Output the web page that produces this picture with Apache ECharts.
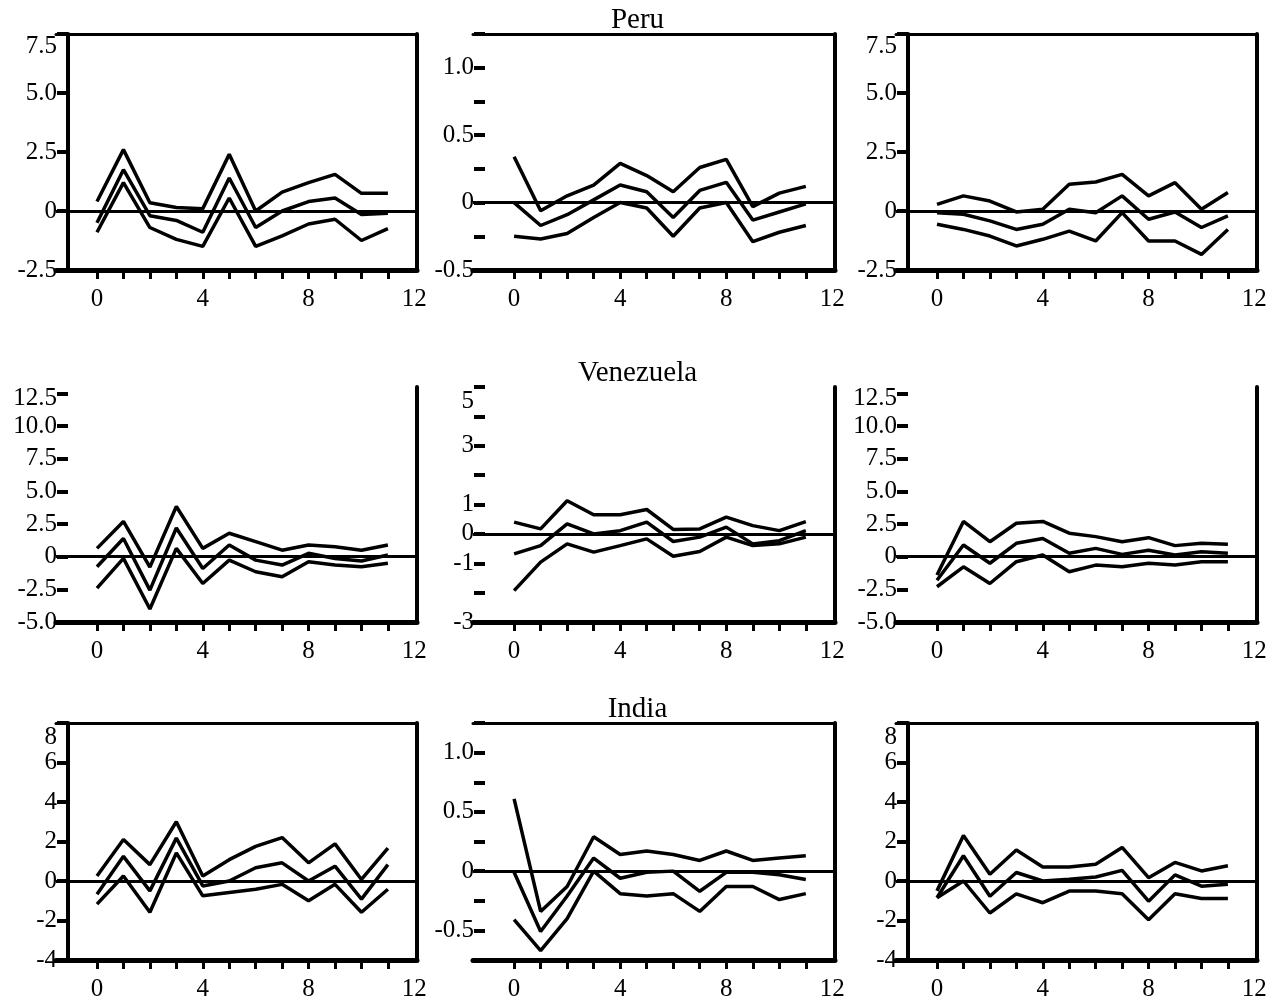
<!DOCTYPE html>
<html>
<head>
<meta charset="utf-8">
<script src="https://cdn.jsdelivr.net/npm/echarts@6/dist/echarts.min.js"></script>
<style>
  html, body { margin: 0; padding: 0; background: #fff; }
  #chart { width: 1275px; height: 1006px; }
</style>
</head>
<body>
<div id="chart"></div>
<script>
// horizon (x axis) and the labels shown under each panel
const horizon = [0, 1, 2, 3, 4, 5, 6, 7, 8, 9, 10, 11];
const xLabels = [0, 4, 8, 12];
const countries = ['Peru', 'Venezuela', 'India'];

// Peru, left panel: upper band, response, lower band
const peruAUpper = [0.4, 2.6, 0.35, 0.15, 0.1, 2.4, 0.0, 0.8, 1.2, 1.55, 0.75, 0.75];
const peruAMid   = [-0.5, 1.75, -0.2, -0.4, -0.9, 1.4, -0.7, 0.0, 0.4, 0.55, -0.15, -0.1];
const peruALower = [-0.9, 1.2, -0.7, -1.2, -1.5, 0.55, -1.5, -1.05, -0.55, -0.35, -1.25, -0.75];
// Peru, middle panel
const peruBUpper = [0.34, -0.06, 0.05, 0.13, 0.29, 0.2, 0.08, 0.26, 0.32, -0.03, 0.07, 0.12];
const peruBMid   = [0.0, -0.17, -0.09, 0.02, 0.13, 0.08, -0.11, 0.09, 0.15, -0.13, -0.07, -0.01];
const peruBLower = [-0.25, -0.27, -0.23, -0.11, 0.0, -0.04, -0.25, -0.04, 0.0, -0.29, -0.22, -0.17];
// Peru, right panel
const peruCUpper = [0.28, 0.64, 0.42, -0.04, 0.07, 1.13, 1.23, 1.55, 0.64, 1.2, 0.07, 0.78];
const peruCMid   = [-0.07, -0.14, -0.42, -0.78, -0.56, 0.07, -0.07, 0.64, -0.35, -0.04, -0.7, -0.21];
const peruCLower = [-0.56, -0.78, -1.06, -1.48, -1.2, -0.85, -1.27, -0.07, -1.27, -1.27, -1.84, -0.78];

// Venezuela, left panel
const venAUpper = [0.64, 2.7, -0.8, 3.85, 0.64, 1.8, 1.15, 0.5, 0.9, 0.77, 0.5, 0.9];
const venAMid   = [-0.77, 1.4, -2.56, 2.2, -0.9, 0.9, -0.26, -0.64, 0.26, -0.13, -0.33, 0.13];
const venALower = [-2.4, -0.13, -4.0, 0.64, -2.05, -0.26, -1.15, -1.54, -0.38, -0.64, -0.77, -0.5];
// Venezuela, middle panel
const venBUpper = [0.4, 0.17, 1.13, 0.65, 0.65, 0.83, 0.15, 0.17, 0.57, 0.28, 0.11, 0.42];
const venBMid   = [-0.68, -0.4, 0.34, 0.0, 0.11, 0.4, -0.26, -0.11, 0.23, -0.34, -0.23, 0.11];
const venBLower = [-1.93, -0.96, -0.34, -0.62, -0.4, -0.17, -0.76, -0.6, -0.11, -0.4, -0.34, -0.11];
// Venezuela, right panel
const venCUpper = [-1.4, 2.7, 1.15, 2.56, 2.7, 1.8, 1.54, 1.15, 1.46, 0.85, 1.03, 0.95];
const venCMid   = [-1.8, 0.9, -0.5, 1.03, 1.4, 0.26, 0.64, 0.18, 0.5, 0.13, 0.38, 0.26];
const venCLower = [-2.3, -0.77, -2.05, -0.38, 0.13, -1.15, -0.64, -0.77, -0.5, -0.64, -0.38, -0.38];

// India, left panel
const indAUpper = [0.25, 2.1, 0.83, 3.0, 0.25, 1.08, 1.75, 2.2, 0.92, 1.88, 0.08, 1.67];
const indAMid   = [-0.67, 1.25, -0.5, 2.17, -0.25, 0.0, 0.67, 0.92, 0.0, 0.75, -0.92, 0.83];
const indALower = [-1.17, 0.25, -1.58, 1.42, -0.75, -0.58, -0.42, -0.17, -1.0, -0.17, -1.58, -0.42];
// India, middle panel
const indBUpper = [0.61, -0.34, -0.13, 0.29, 0.14, 0.17, 0.14, 0.09, 0.17, 0.09, 0.11, 0.13];
const indBMid   = [-0.01, -0.51, -0.21, 0.11, -0.06, -0.01, 0.0, -0.17, -0.01, -0.01, -0.03, -0.07];
const indBLower = [-0.41, -0.67, -0.4, 0.0, -0.19, -0.21, -0.19, -0.34, -0.13, -0.13, -0.24, -0.19];
// India, right panel
const indCUpper = [-0.5, 2.3, 0.34, 1.57, 0.71, 0.71, 0.85, 1.7, 0.17, 0.94, 0.51, 0.77];
const indCMid   = [-0.85, 1.28, -0.77, 0.43, 0.0, 0.09, 0.2, 0.54, -1.02, 0.31, -0.26, -0.17];
const indCLower = [-0.85, 0.0, -1.62, -0.65, -1.1, -0.51, -0.51, -0.65, -1.96, -0.65, -0.89, -0.89];

// y tick values / y label values of each panel type
const ticksWide = [-2.5, 0, 2.5, 5, 7.5];
const ticksVen = [-5, -2.5, 0, 2.5, 5, 7.5, 10, 12.5];
const ticksSmall = [-0.5, -0.25, 0, 0.25, 0.5, 0.75, 1, 1.25];
const ticksSmallInd = [-0.75, -0.5, -0.25, 0, 0.25, 0.5, 0.75, 1, 1.25];
const labelsSmall = [-0.5, 0, 0.5, 1];
const ticksVenMid = [-3, -2, -1, 0, 1, 2, 3, 4, 5];
const labelsVenMid = [-3, -1, 0, 1, 3, 5];
const ticksInd = [-4, -2, 0, 2, 4, 6, 8];

// panel settings: lines, y range, ticks, label decimals, frame lines,
// topShift = how far (px) the top label sits below its tick in the original
const panels = [
    { lines: [peruAUpper, peruAMid, peruALower], min: -2.5, max: 7.5, ticks: ticksWide, labels: ticksWide, dec: 1, leftLine: true, topLine: true, topShift: 12 },
    { lines: [peruBUpper, peruBMid, peruBLower], min: -0.5, max: 1.25, ticks: ticksSmall, labels: labelsSmall, dec: 1, leftLine: false, topLine: true, topShift: 0 },
    { lines: [peruCUpper, peruCMid, peruCLower], min: -2.5, max: 7.5, ticks: ticksWide, labels: ticksWide, dec: 1, leftLine: true, topLine: true, topShift: 12 },
    { lines: [venAUpper, venAMid, venALower], min: -5, max: 13, ticks: ticksVen, labels: ticksVen, dec: 1, leftLine: false, topLine: false, topShift: 5 },
    { lines: [venBUpper, venBMid, venBLower], min: -3, max: 5, ticks: ticksVenMid, labels: labelsVenMid, dec: 0, leftLine: false, topLine: false, topShift: 14 },
    { lines: [venCUpper, venCMid, venCLower], min: -5, max: 13, ticks: ticksVen, labels: ticksVen, dec: 1, leftLine: false, topLine: false, topShift: 5 },
    { lines: [indAUpper, indAMid, indALower], min: -4, max: 8, ticks: ticksInd, labels: ticksInd, dec: 0, leftLine: true, topLine: true, topShift: 14 },
    { lines: [indBUpper, indBMid, indBLower], min: -0.75, max: 1.25, ticks: ticksSmallInd, labels: labelsSmall, dec: 1, leftLine: false, topLine: true, topShift: 0 },
    { lines: [indCUpper, indCMid, indCLower], min: -4, max: 8, ticks: ticksInd, labels: ticksInd, dec: 0, leftLine: true, topLine: true, topShift: 14 }
];

// pixel layout of the 3x3 grid (left edge includes the small frame overhang)
const colLeft = [56, 473, 896];
const colWidth = [361, 362, 361];
const rowTop = [34, 387, 723];
const rowHeight = [236, 235, 237];
const titleTop = [1, 354, 690];

const FONT = 'Liberation Serif';
const INK = '#000';
const LABEL_SIZE = 25;

function fmt(v, dec) {
    if (v === 0) return '0';
    return v.toFixed(dec);
}

let grids = [], xAxes = [], yAxes = [], series = [], titles = [];

countries.forEach(function(name, r) {
    titles.push({
        text: name, left: 'center', top: titleTop[r],
        textStyle: { fontFamily: FONT, fontSize: 29, fontWeight: 'normal', color: INK }
    });
});

panels.forEach(function(p, i) {
    let r = Math.floor(i / 3), c = i % 3;
    let topLabel = p.labels[p.labels.length - 1];
    grids.push({
        left: colLeft[c], top: rowTop[r], width: colWidth[c], height: rowHeight[r],
        containLabel: false, outerBoundsMode: 'none'
    });
    let xBottom = xAxes.length;
    // bottom x axis, thick line with ticks at every step
    xAxes.push({
        type: 'value', gridIndex: i, position: 'bottom', min: -1.55, max: 12.1,
        splitLine: { show: false },
        axisLine: { show: true, onZero: false, lineStyle: { color: INK, width: 5 } },
        axisTick: { show: true, customValues: horizon, length: 9, lineStyle: { color: INK, width: 3 } },
        axisLabel: {
            customValues: xLabels, margin: 17,
            fontFamily: FONT, fontSize: LABEL_SIZE, color: INK
        }
    });
    // top frame line
    xAxes.push({
        type: 'value', gridIndex: i, position: 'top', min: -1.55, max: 12.1,
        splitLine: { show: false },
        axisLine: { show: p.topLine, onZero: false, lineStyle: { color: INK, width: 3 } },
        axisTick: { show: false }, axisLabel: { show: false }
    });
    let yLeft = yAxes.length;
    yAxes.push({
        type: 'value', gridIndex: i, position: 'left', offset: -12,
        min: p.min, max: p.max,
        splitLine: { show: false },
        axisLine: { show: p.leftLine, onZero: false, lineStyle: { color: INK, width: 4 } },
        axisTick: { show: true, customValues: p.ticks, length: 11, lineStyle: { color: INK, width: 4 } },
        axisLabel: {
            customValues: p.labels, margin: 11, hideOverlap: false,
            fontFamily: FONT, fontSize: LABEL_SIZE, color: INK,
            formatter: function(v) {
                // the top label of the original sits a little below its tick
                if (v === topLabel && p.topShift > 0) return '{low|' + fmt(v, p.dec) + '}';
                return fmt(v, p.dec);
            },
            rich: {
                low: {
                    fontFamily: FONT, fontSize: LABEL_SIZE, color: INK,
                    padding: [p.topShift * 2, 0, 0, 0]
                }
            }
        }
    });
    // right frame line
    yAxes.push({
        type: 'value', gridIndex: i, position: 'right', min: p.min, max: p.max,
        splitLine: { show: false },
        axisLine: { show: true, onZero: false, lineStyle: { color: INK, width: 4 } },
        axisTick: { show: false }, axisLabel: { show: false }
    });
    p.lines.forEach(function(vals, k) {
        let s = {
            type: 'line', xAxisIndex: xBottom, yAxisIndex: yLeft,
            data: horizon.map(function(h, j) { return [h, vals[j]]; }),
            showSymbol: false, silent: true, z: 3,
            lineStyle: { color: INK, width: 3.5 }
        };
        if (k === 1) {
            // zero reference line across the panel
            s.markLine = {
                silent: true, symbol: 'none', label: { show: false },
                lineStyle: { color: INK, width: 3, type: 'solid' },
                data: [{ yAxis: 0 }]
            };
        }
        series.push(s);
    });
});

const myChart = echarts.init(document.getElementById('chart'));
myChart.setOption({
    animation: false,
    backgroundColor: '#fff',
    title: titles,
    grid: grids,
    xAxis: xAxes,
    yAxis: yAxes,
    series: series
});
</script>
</body>
</html>
